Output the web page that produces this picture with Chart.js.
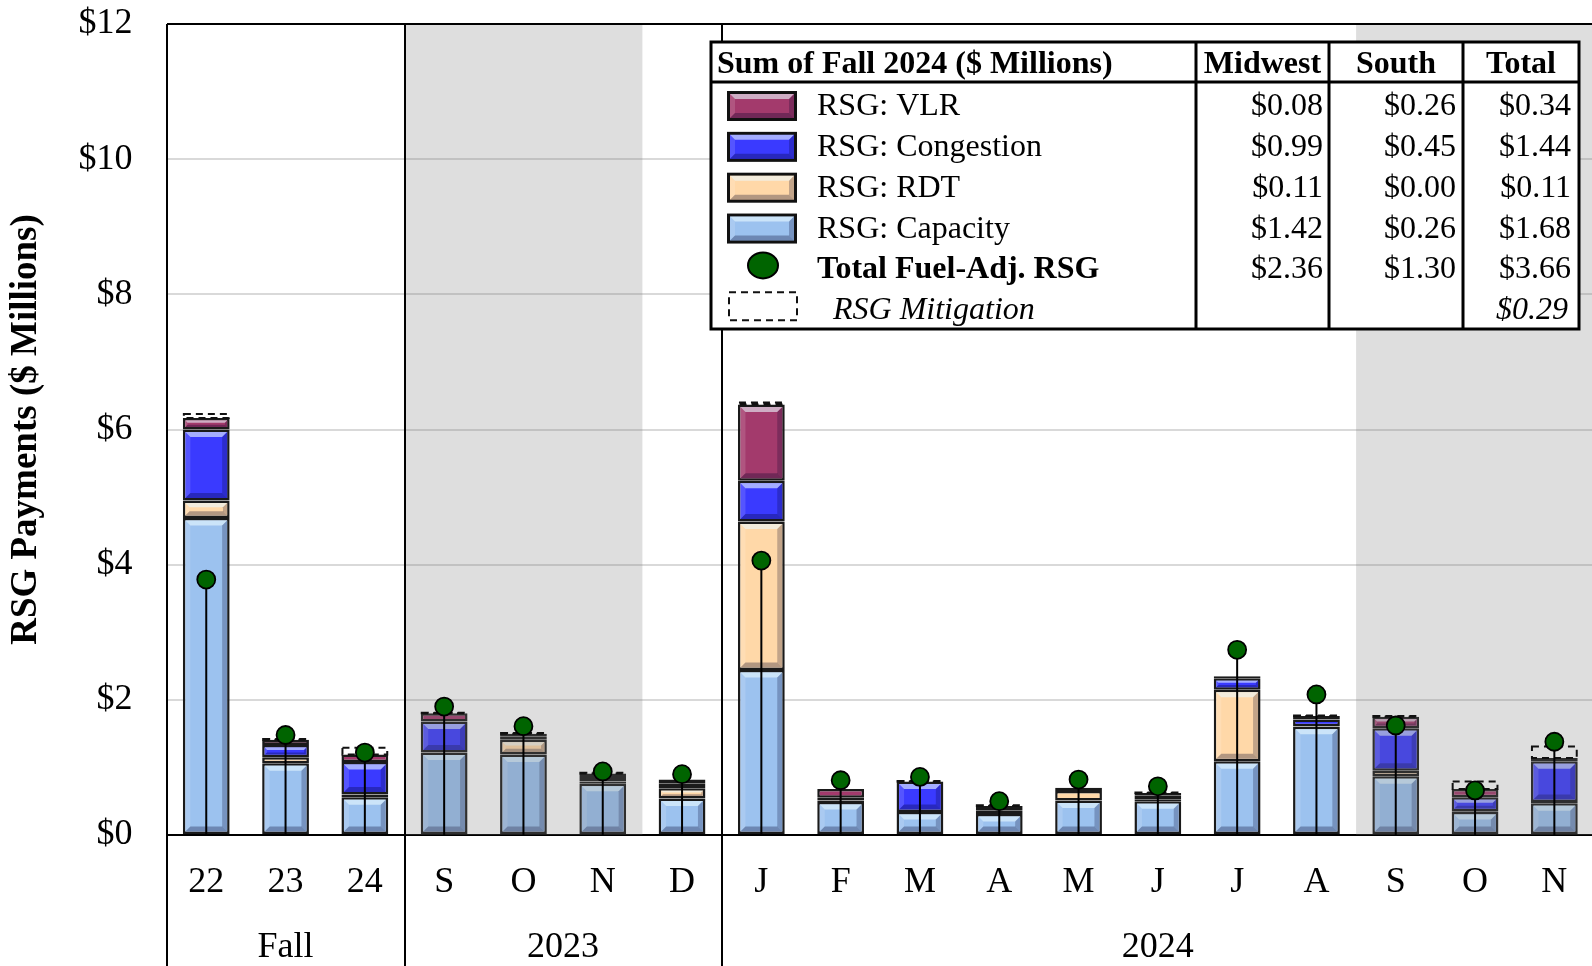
<!DOCTYPE html>
<html>
<head>
<meta charset="utf-8">
<script src="https://cdn.jsdelivr.net/npm/chart.js@4.4.1/dist/chart.umd.min.js"></script>
<style>
  html, body { margin: 0; padding: 0; background: #fff; overflow: hidden; }
  #wrap { position: relative; width: 1594px; height: 966px; }
</style>
</head>
<body>
<div id="wrap"><canvas id="rsg" width="1594" height="966"></canvas></div>
<script>
// Month / season categories along the x axis
const categories = ['22', '23', '24', 'S', 'O', 'N', 'D', 'J', 'F', 'M', 'A', 'M', 'J', 'J', 'A', 'S', 'O', 'N'];
const groupNames = ['Fall', '2023', '2024'];
const groupStarts = [0, 3, 7];
const groupEnds = [2, 6, 17];
const shadedStarts = [3, 15];
const shadedEnds = [5, 17];

// RSG payments ($ millions), stacked bottom to top
const capacity   = [4.69, 1.06, 0.56, 1.22, 1.19, 0.76, 0.54, 2.44, 0.49, 0.34, 0.31, 0.51, 0.50, 1.09, 1.60, 0.87, 0.34, 0.47];
const rdt        = [0.26, 0.09, 0.04, 0.00, 0.22, 0.03, 0.15, 2.20, 0.02, 0.00, 0.05, 0.14, 0.02, 1.06, 0.01, 0.08, 0.01, 0.02];
const congestion = [1.05, 0.18, 0.48, 0.46, 0.05, 0.07, 0.07, 0.60, 0.04, 0.45, 0.04, 0.03, 0.06, 0.17, 0.10, 0.63, 0.21, 0.60];
const vlr        = [0.17, 0.08, 0.11, 0.12, 0.04, 0.05, 0.06, 1.13, 0.13, 0.00, 0.03, 0.02, 0.04, 0.03, 0.05, 0.17, 0.12, 0.05];
const mitigation = [0.06, 0.01, 0.10, 0.01, 0.01, 0.01, 0.00, 0.03, 0.00, 0.01, 0.01, 0.00, 0.01, 0.00, 0.01, 0.01, 0.11, 0.17];
const fuelAdjRsg = [3.78, 1.48, 1.22, 1.90, 1.61, 0.94, 0.90, 4.06, 0.81, 0.86, 0.50, 0.82, 0.72, 2.74, 2.08, 1.62, 0.66, 1.38];

// Y axis ticks
const yTicks = [0, 2, 4, 6, 8, 10, 12];

// Summary table: Fall 2024 sums
const tableTitle = 'Sum of Fall 2024 ($ Millions)';
const tableColumns = ['Midwest', 'South', 'Total'];
const tableRows = ['RSG: VLR', 'RSG: Congestion', 'RSG: RDT', 'RSG: Capacity', 'Total Fuel-Adj. RSG', 'RSG Mitigation'];
const tableMidwest = [0.08, 0.99, 0.11, 1.42, 2.36, null];
const tableSouth   = [0.26, 0.45, 0.00, 0.26, 1.30, null];
const tableTotal   = [0.34, 1.44, 0.11, 1.68, 3.66, 0.29];

const SERIF = "'Liberation Serif', 'Times New Roman', serif";
const COLORS = { vlr: '#a33a6c', congestion: '#3a3aff', rdt: '#ffd8a8', capacity: '#9cc2ef', dot: '#006400' };
const EDGE = '#1a1a1a';
const BORDER_W = 2.5;

// Beveled look on a filled rectangle
function bevel(ctx, l, t, r, b) {
  const h = b - t, w = r - l;
  if (h < 5 || w < 10) return;
  const d = Math.min(5, h / 3);
  ctx.save();
  ctx.fillStyle = 'rgba(235,250,255,0.6)';
  ctx.beginPath(); ctx.moveTo(l, t); ctx.lineTo(r, t); ctx.lineTo(r - d, t + d); ctx.lineTo(l + d, t + d); ctx.closePath(); ctx.fill();
  ctx.fillStyle = 'rgba(255,255,255,0.14)';
  ctx.beginPath(); ctx.moveTo(l, t); ctx.lineTo(l + d, t + d); ctx.lineTo(l + d, b - d); ctx.lineTo(l, b); ctx.closePath(); ctx.fill();
  ctx.fillStyle = 'rgba(0,0,40,0.24)';
  ctx.beginPath(); ctx.moveTo(r, t); ctx.lineTo(r, b); ctx.lineTo(r - d, b - d); ctx.lineTo(r - d, t + d); ctx.closePath(); ctx.fill();
  ctx.fillStyle = 'rgba(0,0,40,0.30)';
  ctx.beginPath(); ctx.moveTo(l, b); ctx.lineTo(r, b); ctx.lineTo(r - d, b - d); ctx.lineTo(l + d, b - d); ctx.closePath(); ctx.fill();
  ctx.restore();
}

function barRect(el) {
  const p = el.getProps(['x', 'y', 'base', 'width'], true);
  return { l: p.x - p.width / 2, r: p.x + p.width / 2, t: Math.min(p.y, p.base), b: Math.max(p.y, p.base) };
}

const BAR_SETS = [0, 1, 2, 3];
const MITIGATION_SET = 4;
const DOT_SET = 5;

const rsgPlugin = {
  id: 'rsgDecor',
  afterDatasetDraw(chart, args) {
    const ctx = chart.ctx;
    if (BAR_SETS.includes(args.index)) {
      args.meta.data.forEach(el => {
        const r = barRect(el);
        bevel(ctx, r.l + BORDER_W, r.t + BORDER_W, r.r - BORDER_W, r.b - BORDER_W);
      });
    }
    // bars are painted last-to-first, so dataset 0 closes the bar layer
    if (args.index === 0) {
      const x = chart.scales.x, a = chart.chartArea;
      const half = (x.getPixelForValue(1) - x.getPixelForValue(0)) / 2;
      // fall-month shading laid over the bars
      ctx.save();
      ctx.fillStyle = 'rgba(117,117,117,0.24)';
      shadedStarts.forEach((s, k) => {
        const l = x.getPixelForValue(s) - half;
        const r = x.getPixelForValue(shadedEnds[k]) + half;
        ctx.fillRect(l, a.top + 1, r - l, a.bottom - a.top - 1);
      });
      ctx.restore();
      // dashed mitigation boxes on top of each stack
      const mMeta = chart.getDatasetMeta(MITIGATION_SET);
      ctx.save();
      ctx.strokeStyle = '#111';
      ctx.lineWidth = 2;
      ctx.setLineDash([7, 5]);
      mMeta.data.forEach((el, i) => {
        if (!mitigation[i]) return;
        const r = barRect(el);
        ctx.strokeRect(r.l + 1, r.t, r.r - r.l - 2, r.b - r.t);
      });
      ctx.restore();
    }
  },
  beforeDatasetDraw(chart, args) {
    if (args.index !== DOT_SET) return;
    // stems from zero up to each fuel-adjusted total
    const ctx = chart.ctx;
    const y0 = chart.scales.y.getPixelForValue(0);
    ctx.save();
    ctx.strokeStyle = '#000';
    ctx.lineWidth = 2;
    args.meta.data.forEach(el => {
      ctx.beginPath();
      ctx.moveTo(el.x, y0);
      ctx.lineTo(el.x, el.y);
      ctx.stroke();
    });
    ctx.restore();
  },
  afterDraw(chart) {
    const ctx = chart.ctx;
    const x = chart.scales.x, a = chart.chartArea;
    const half = (x.getPixelForValue(1) - x.getPixelForValue(0)) / 2;
    const H = chart.height;
    ctx.save();
    // group separators
    ctx.strokeStyle = '#000';
    ctx.lineWidth = 2;
    groupStarts.forEach(s => {
      const px = Math.round(x.getPixelForValue(s) - half);
      ctx.beginPath(); ctx.moveTo(px, a.top); ctx.lineTo(px, H); ctx.stroke();
    });
    // group labels
    ctx.fillStyle = '#000';
    ctx.font = '36px ' + SERIF;
    ctx.textAlign = 'center';
    ctx.textBaseline = 'alphabetic';
    groupNames.forEach((g, k) => {
      const cx = (x.getPixelForValue(groupStarts[k]) + x.getPixelForValue(groupEnds[k])) / 2;
      ctx.fillText(g, cx, 957);
    });
    ctx.restore();
    drawTable(ctx, chart);
  }
};

function drawTable(ctx, chart) {
  const L = 711, T = 42, R = 1579, B = 329;
  const headY = 82;
  const cols = [1196, 1329, 1463];
  const ds = chart.data.datasets;
  const swatchColors = [ds[3].backgroundColor, ds[2].backgroundColor, ds[1].backgroundColor, ds[0].backgroundColor];
  ctx.save();
  ctx.fillStyle = '#fff';
  ctx.fillRect(L, T, R - L, B - T);
  ctx.strokeStyle = '#000';
  ctx.lineWidth = 3;
  ctx.strokeRect(L, T, R - L, B - T);
  ctx.beginPath(); ctx.moveTo(L, headY); ctx.lineTo(R, headY); ctx.stroke();
  cols.forEach(c => { ctx.beginPath(); ctx.moveTo(c, T); ctx.lineTo(c, B); ctx.stroke(); });

  ctx.fillStyle = '#000';
  ctx.textBaseline = 'alphabetic';
  ctx.font = 'bold 32px ' + SERIF;
  ctx.textAlign = 'left';
  ctx.fillText(tableTitle, 717, 73);
  ctx.textAlign = 'center';
  const colEdges = [cols[0], cols[1], cols[2], R];
  tableColumns.forEach((c, k) => ctx.fillText(c, (colEdges[k] + colEdges[k + 1]) / 2, 73));

  tableRows.forEach((label, i) => {
    const base = 115 + i * 40.85;
    // key
    if (i < 4) {
      const sx = 727, sy = base - 24, sw = 70, sh = 30;
      ctx.fillStyle = '#111';
      ctx.fillRect(sx, sy, sw, sh);
      ctx.fillStyle = swatchColors[i];
      ctx.fillRect(sx + 3, sy + 3, sw - 6, sh - 6);
      bevel(ctx, sx + 3, sy + 3, sx + sw - 3, sy + sh - 3);
    } else if (i === 4) {
      ctx.beginPath();
      ctx.ellipse(763, base - 13, 15, 13, 0, 0, Math.PI * 2);
      ctx.fillStyle = COLORS.dot; ctx.fill();
      ctx.lineWidth = 2; ctx.strokeStyle = '#000'; ctx.stroke();
    } else {
      ctx.save();
      ctx.setLineDash([7, 5]);
      ctx.lineWidth = 2; ctx.strokeStyle = '#111';
      ctx.strokeRect(729, base - 27, 68, 28);
      ctx.restore();
    }
    ctx.fillStyle = '#000';
    ctx.textAlign = 'left';
    if (i === 4) ctx.font = 'bold 32px ' + SERIF;
    else if (i === 5) ctx.font = 'italic 32px ' + SERIF;
    else ctx.font = '32px ' + SERIF;
    ctx.fillText(label, i === 5 ? 833 : 817, base);

    ctx.font = (i === 5 ? 'italic ' : '') + '32px ' + SERIF;
    ctx.textAlign = 'right';
    const fmt = v => '$' + v.toFixed(2);
    if (tableMidwest[i] !== null) ctx.fillText(fmt(tableMidwest[i]), 1323, base);
    if (tableSouth[i] !== null) ctx.fillText(fmt(tableSouth[i]), 1456, base);
    if (tableTotal[i] !== null) ctx.fillText(fmt(tableTotal[i]), i === 5 ? 1568 : 1571, base);
  });
  ctx.restore();
}

const barBase = { stack: 'rsg', order: 1, borderColor: EDGE, borderWidth: BORDER_W, borderSkipped: false };

new Chart(document.getElementById('rsg'), {
  type: 'bar',
  data: {
    labels: categories,
    datasets: [
      Object.assign({ label: 'RSG: Capacity', data: capacity, backgroundColor: COLORS.capacity }, barBase),
      Object.assign({ label: 'RSG: RDT', data: rdt, backgroundColor: COLORS.rdt }, barBase),
      Object.assign({ label: 'RSG: Congestion', data: congestion, backgroundColor: COLORS.congestion }, barBase),
      Object.assign({ label: 'RSG: VLR', data: vlr, backgroundColor: COLORS.vlr }, barBase),
      { label: 'RSG Mitigation', data: mitigation, stack: 'rsg', order: 1,
        backgroundColor: 'rgba(0,0,0,0)', borderWidth: 0 },
      { type: 'line', label: 'Total Fuel-Adj. RSG', data: fuelAdjRsg, stack: 'dot', order: 0,
        showLine: false, pointRadius: 9, pointBackgroundColor: COLORS.dot,
        pointBorderColor: '#000', pointBorderWidth: 1.8 }
    ]
  },
  options: {
    responsive: false,
    animation: false,
    events: [],
    layout: { autoPadding: false, padding: { top: 24, left: 0, right: 0, bottom: 0 } },
    datasets: { bar: { barPercentage: 0.59, categoryPercentage: 1 } },
    plugins: { legend: { display: false }, tooltip: { enabled: false } },
    scales: {
      x: {
        stacked: true,
        grid: { display: false, drawTicks: false },
        border: { display: true, color: '#000', width: 2 },
        ticks: { color: '#000', font: { family: SERIF, size: 36 }, padding: 26, maxRotation: 0, autoSkip: false },
        afterFit: s => { s.height = 131; s.paddingLeft = 0; s.paddingRight = 0; }
      },
      y: {
        stacked: true,
        min: yTicks[0],
        max: yTicks[yTicks.length - 1],
        afterBuildTicks: s => { s.ticks = yTicks.map(v => ({ value: v })); },
        ticks: { color: '#000', font: { family: SERIF, size: 36 }, padding: 34, callback: v => '$' + v },
        grid: {
          drawTicks: false,
          color: c => (c.tick && c.tick.value === 12) ? '#000' : '#d9d9d9',
          lineWidth: 2
        },
        border: { display: false },
        title: { display: true, text: 'RSG Payments ($ Millions)', color: '#000',
                 font: { family: SERIF, size: 37, weight: 'bold' }, padding: { top: 4, bottom: 0 } },
        afterFit: s => { s.width = 166.6; s.paddingTop = 0; s.paddingBottom = 0; }
      }
    }
  },
  plugins: [rsgPlugin]
});
</script>
</body>
</html>
